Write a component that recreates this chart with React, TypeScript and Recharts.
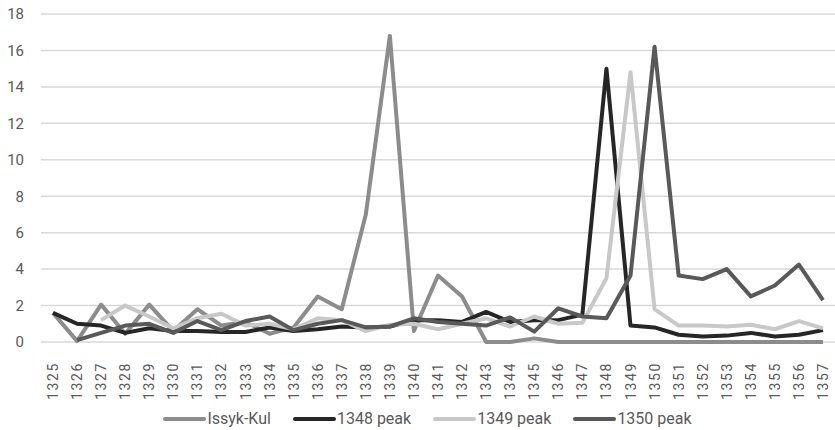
import { LineChart, Line, XAxis, YAxis, CartesianGrid, Legend } from "recharts";

const years = [
  "1325", "1326", "1327", "1328", "1329", "1330", "1331", "1332", "1333", "1334", "1335",
  "1336", "1337", "1338", "1339", "1340", "1341", "1342", "1343", "1344", "1345", "1346",
  "1347", "1348", "1349", "1350", "1351", "1352", "1353", "1354", "1355", "1356", "1357",
];

const issykKul = [
  1.6, 0.05, 2.05, 0.45, 2.05, 0.6, 1.8, 0.9, 1.1, 0.45, 0.8,
  2.5, 1.8, 7.0, 16.8, 0.6, 3.65, 2.5, 0, 0, 0.2, 0,
  0, 0, 0, 0, 0, 0, 0, 0, 0, 0, 0,
];

const peak1348 = [
  1.6, 1.0, 0.9, 0.5, 0.75, 0.6, 0.6, 0.55, 0.55, 0.8, 0.6,
  0.7, 0.85, 0.8, 0.85, 1.2, 1.2, 1.1, 1.65, 1.1, 1.2, 1.2,
  1.5, 15.0, 0.9, 0.8, 0.4, 0.3, 0.35, 0.5, 0.3, 0.4, 0.65,
];

const peak1349 = [
  null, null, 1.2, 2.0, 1.4, 0.75, 1.3, 1.55, 0.9, 1.0, 0.7,
  1.3, 1.2, 0.6, 0.95, 1.0, 0.7, 1.0, 1.3, 0.85, 1.4, 1.0,
  1.05, 3.5, 14.8, 1.8, 0.9, 0.9, 0.85, 0.95, 0.7, 1.15, 0.75,
];

const peak1350 = [
  null, 0.1, 0.5, 0.9, 1.0, 0.5, 1.15, 0.65, 1.15, 1.4, 0.65,
  1.0, 1.2, 0.8, 0.85, 1.3, 1.1, 1.0, 0.9, 1.35, 0.57, 1.85,
  1.4, 1.3, 3.65, 16.2, 3.65, 3.45, 4.0, 2.5, 3.1, 4.25, 2.3,
];

const yTicks = [0, 2, 4, 6, 8, 10, 12, 14, 16, 18];

const series = [
  { key: "issykKul", name: "Issyk-Kul", color: "#8c8c8c" },
  { key: "peak1348", name: "1348 peak", color: "#262626" },
  { key: "peak1349", name: "1349 peak", color: "#c8c8c8" },
  { key: "peak1350", name: "1350 peak", color: "#595959" },
];

const data = years.map((year, i) => ({
  year,
  issykKul: issykKul[i],
  peak1348: peak1348[i],
  peak1349: peak1349[i],
  peak1350: peak1350[i],
}));

const FONT = "Roboto, 'Open Sans', sans-serif";

const YearTick = (props: any) => {
  const { x, y, payload } = props;
  const ty = y + 12;
  return (
    <text
      x={x}
      y={ty}
      transform={`rotate(-90, ${x}, ${ty})`}
      textAnchor="end"
      dy="0.36em"
      fill="#595959"
      fontSize={14}
      letterSpacing={1.6}
      fontFamily={FONT}
    >
      {payload.value}
    </text>
  );
};

const LegendContent = () => (
  <div
    style={{
      display: "flex",
      justifyContent: "center",
      gap: 22,
      fontFamily: FONT,
      fontSize: 16,
      color: "#595959",
      paddingLeft: 20,
      paddingTop: 9,
    }}
  >
    {series.map((s) => (
      <div key={s.key} style={{ display: "flex", alignItems: "center" }}>
        <svg width={43} height={10}>
          <line x1={2} y1={5} x2={41} y2={5} stroke={s.color} strokeWidth={4} strokeLinecap="round" />
        </svg>
        <span style={{ marginLeft: 1 }}>{s.name}</span>
      </div>
    ))}
  </div>
);

export default function App() {
  return (
    <div style={{ position: "absolute", left: 0, top: 0, background: "#fff" }}>
      <LineChart width={835} height={430} data={data} margin={{ top: 14, right: 0, left: 0, bottom: 0 }}>
        <CartesianGrid vertical={false} stroke="#d9d9d9" strokeWidth={1.5} />
        <XAxis
          dataKey="year"
          interval={0}
          padding={{ left: 12, right: 12 }}
          height={58}
          tick={<YearTick />}
          tickLine={false}
          axisLine={false}
        />
        <YAxis
          domain={[0, 18]}
          ticks={yTicks}
          width={41}
          tickLine={false}
          axisLine={false}
          tickMargin={11}
          tick={{ fill: "#595959", fontSize: 15, fontFamily: FONT }}
        />
        <Legend verticalAlign="bottom" height={30} content={<LegendContent />} />
        {series.map((s) => (
          <Line
            key={s.key}
            type="linear"
            dataKey={s.key}
            name={s.name}
            stroke={s.color}
            strokeWidth={4}
            strokeLinejoin="round"
            dot={false}
            activeDot={false}
            isAnimationActive={false}
          />
        ))}
      </LineChart>
    </div>
  );
}
